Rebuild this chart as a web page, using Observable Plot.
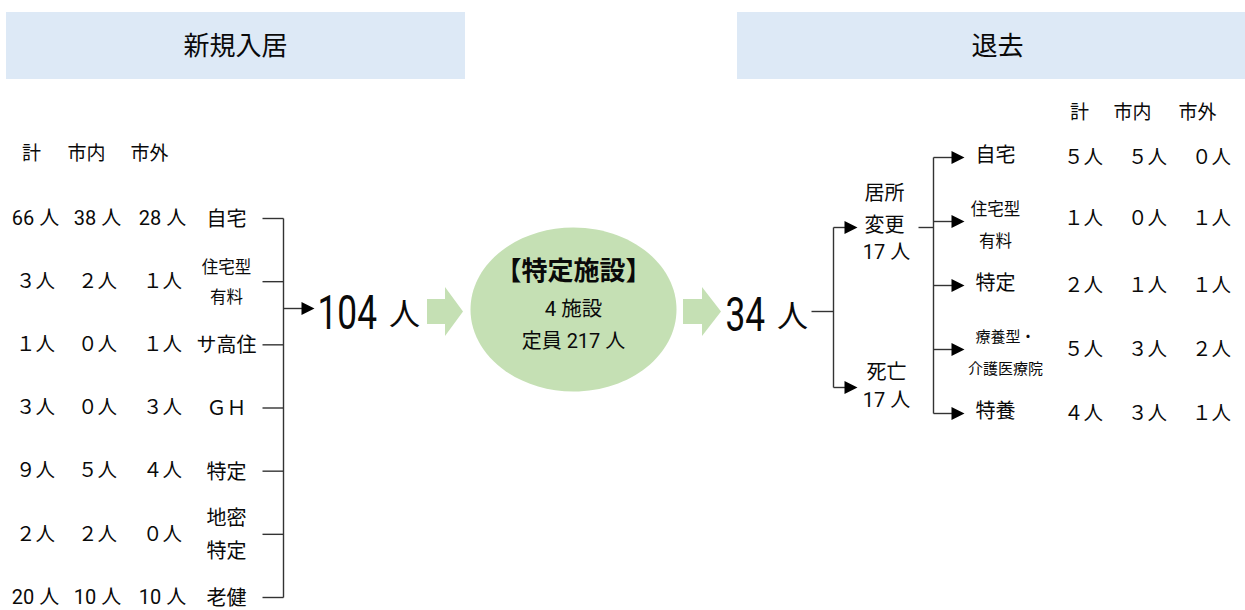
<!DOCTYPE html>
<html><head><meta charset="utf-8">
<script src="https://cdn.jsdelivr.net/npm/d3@7"></script>
<script src="https://cdn.jsdelivr.net/npm/@observablehq/plot@0.6"></script>
<style>html,body{margin:0;padding:0;background:#fff;overflow:hidden}</style>
</head><body><div id="chart"></div>
<script>
// ---------------- data ----------------
const sectionTitles = ["新規入居", "退去"];
const columnHeaders = ["計", "市内", "市外"];
const inCategories = ["自宅", "住宅型\n有料", "サ高住", "ＧＨ", "特定", "地密\n特定", "老健"];
const inTotal   = [66, 3, 1, 3, 9, 2, 20];
const inCity    = [38, 2, 0, 0, 5, 2, 10];
const inOutside = [28, 1, 1, 3, 4, 0, 10];
const inSum = 104;
const facilityName = "【特定施設】";
const facilityCount = 4;
const facilityCapacity = 217;
const outSum = 34;
const outTypes = ["居所\n変更", "死亡"];
const outTypeValues = [17, 17];
const outCategories = ["自宅", "住宅型\n有料", "特定", "療養型・\n介護医療院", "特養"];
const outTotal   = [5, 1, 2, 5, 4];
const outCity    = [5, 0, 1, 3, 3];
const outOutside = [0, 1, 1, 2, 1];

// ---------------- layout ----------------
const W = 1245, H = 610;
const font = "Roboto, 'Noto Sans CJK JP', sans-serif";
const ink = "#0a0a0a", lineColor = "#333", green = "#c5e0b4", blue = "#dde9f6";
const fw = n => String(n).split("").map(c => String.fromCharCode(0xFF10 + +c)).join("");
const fmt = n => n < 10 ? fw(n) + "人" : `${n} 人`;

const inRowY = d3.scalePoint(d3.range(inCategories.length), [218, 597]);
const outRowY = d3.scalePoint(d3.range(outCategories.length), [157, 413]);
const inColX = [35, 97, 162], inHeaderX = [31, 86, 149], inHeaderY = 153;
const outColX = [1083, 1147, 1211], outHeaderX = [1079, 1132, 1197], outHeaderY = 112;
const inLabelX = 226, outLabelX = 1000;
const labelSize = {"住宅型\n有料": 16.5, "療養型・\n介護医療院": 15};
const boxes = [{x1: 6, x2: 465, tx: 235}, {x1: 737, x2: 1245, tx: 997}];

const texts = [];   // middle anchored
const addLines = (label, x, y, size, gap) => {
  const lines = label.split("\n");
  lines.forEach((t, j) => texts.push({x, y: y + (j - (lines.length - 1) / 2) * gap, text: t, size}));
};
sectionTitles.forEach((t, i) => texts.push({x: boxes[i].tx, y: 46, text: t, size: 26}));
columnHeaders.forEach((t, i) => texts.push({x: inHeaderX[i], y: inHeaderY, text: t, size: 19}));
columnHeaders.forEach((t, i) => texts.push({x: outHeaderX[i], y: outHeaderY, text: t, size: 19}));
inCategories.forEach((c, i) => {
  const y = inRowY(i);
  [inTotal[i], inCity[i], inOutside[i]].forEach((v, k) =>
    texts.push({x: inColX[k], y, text: fmt(v), size: v < 10 ? 19.5 : 20}));
  addLines(c, inLabelX, y + 1, labelSize[c] || 20, c.startsWith("住宅") ? 30 : 33);
});
outCategories.forEach((c, i) => {
  const y = outRowY(i);
  [outTotal[i], outCity[i], outOutside[i]].forEach((v, k) =>
    texts.push({x: outColX[k], y: y - (i === 1 ? 3 : 0), text: fmt(v), size: 19.5}));
  addLines(c, c.startsWith("療養") ? 1005 : outLabelX - 5, y + (c.includes("\n") ? 4 : -2), labelSize[c] || 20, 32);
});
// right root labels
const typeY = [227, 387];
addLines(outTypes[0], 884, 209, 20, 32);
texts.push({x: 886, y: 252, text: fmt(outTypeValues[0]), size: 20});
addLines(outTypes[1], 886, 372, 20, 32);
texts.push({x: 886, y: 400, text: fmt(outTypeValues[1]), size: 20});
// ellipse texts
const ell = {cx: 573, cy: 309, rx: 103, ry: 82};
texts.push({x: ell.cx, y: 309, text: `${facilityCount} 施設`, size: 20.5});
texts.push({x: ell.cx, y: 341, text: `定員 ${facilityCapacity} 人`, size: 20});
const boldTexts = [{x: ell.cx, y: 271, text: facilityName, size: 26}];

// big totals
const flowY = 311;
const bigNumbers = [{x: 317, y: 313, text: String(inSum)}, {x: 725, y: 315, text: String(outSum)}];
const bigUnits = [{x: 404, y: 315, text: "人"}, {x: 792, y: 317, text: "人"}];

// connector lines
const links = [];
const heads = [];
const inTrunkX = 283;
inCategories.forEach((c, i) => links.push({x1: 262, y1: inRowY(i), x2: inTrunkX, y2: inRowY(i)}));
links.push({x1: inTrunkX, y1: inRowY(0), x2: inTrunkX, y2: inRowY(inCategories.length - 1)});
links.push({x1: inTrunkX, y1: 308, x2: 302, y2: 308}); heads.push({x: 314, y: 308});
links.push({x1: 811, y1: flowY, x2: 833, y2: flowY});
links.push({x1: 833, y1: typeY[0], x2: 833, y2: typeY[1]});
typeY.forEach(y => { links.push({x1: 833, y1: y, x2: 845, y2: y}); heads.push({x: 857, y}); });
links.push({x1: 918, y1: typeY[0], x2: 933, y2: typeY[0]});
links.push({x1: 933, y1: outRowY(0), x2: 933, y2: outRowY(outCategories.length - 1)});
outCategories.forEach((c, i) => { links.push({x1: 933, y1: outRowY(i), x2: 952, y2: outRowY(i)}); heads.push({x: 964, y: outRowY(i)}); });

// block arrows
const blockArrows = [[427, 445, 463], [683, 702, 721]];
const blockPts = blockArrows.flatMap(([a, m, b], id) => [
  {id, x: a, y1: 311.5 - 12.5, y2: 311.5 + 12.5},
  {id, x: m, y1: 311.5 - 12.5, y2: 311.5 + 12.5},
  {id, x: m, y1: 311.5 - 24.5, y2: 311.5 + 24.5},
  {id, x: b, y1: 311.5, y2: 311.5}
]);

const ellipseSymbol = {draw(ctx, size) {
  const rx = ell.rx, ry = ell.ry, k = 0.5523;
  ctx.moveTo(rx, 0);
  ctx.bezierCurveTo(rx, ry * k, rx * k, ry, 0, ry);
  ctx.bezierCurveTo(-rx * k, ry, -rx, ry * k, -rx, 0);
  ctx.bezierCurveTo(-rx, -ry * k, -rx * k, -ry, 0, -ry);
  ctx.bezierCurveTo(rx * k, -ry, rx, -ry * k, rx, 0);
  ctx.closePath();
}};
const headSymbol = {draw(ctx) {
  ctx.moveTo(0, 0); ctx.lineTo(-13, -6.5); ctx.lineTo(-13, 6.5); ctx.closePath();
}};

const svg = Plot.plot({
  width: W, height: H, margin: 0,
  x: {domain: [0, W], range: [0, W], axis: null},
  y: {domain: [0, H], range: [0, H], axis: null},
  style: {fontFamily: font, background: "#fff"},
  marks: [
    Plot.rect(boxes, {x1: "x1", x2: "x2", y1: () => 12, y2: () => 79, fill: blue}),
    Plot.area(blockPts, {x1: "x", y1: "y1", y2: "y2", z: "id", fill: green, curve: "linear"}),
    Plot.dot([ell], {x: "cx", y: "cy", symbol: ellipseSymbol, fill: green, stroke: null, r: 10}),
    Plot.link(links, {x1: "x1", y1: "y1", x2: "x2", y2: "y2", stroke: lineColor, strokeWidth: 1.4}),
    Plot.dot(heads, {x: "x", y: "y", symbol: headSymbol, fill: "#000", stroke: null}),
    Plot.text(texts, {x: "x", y: "y", text: "text", fontSize: d => d.size, fill: ink, fontFamily: font}),
    Plot.text(boldTexts, {x: "x", y: "y", text: "text", fontSize: d => d.size, fill: ink, fontWeight: "bold", fontFamily: font}),
    Plot.text(bigNumbers, {x: "x", y: "y", text: "text", fontSize: 49, textAnchor: "start", fill: ink, fontFamily: font}),
    Plot.text(bigUnits, {x: "x", y: "y", text: "text", fontSize: 31, fill: ink, fontFamily: font})
  ]
});
const bigSet = new Set(bigNumbers.map(d => d.text));
svg.querySelectorAll("text").forEach(t => {
  if (!bigSet.has(t.textContent)) return;
  let tr = t.getAttribute("transform");
  if (!tr) {
    const x = t.getAttribute("x") || 0, y = t.getAttribute("y") || 0;
    t.removeAttribute("x"); t.removeAttribute("y");
    tr = `translate(${x},${y})`;
  }
  t.setAttribute("transform", tr + " scale(0.72,1)");
});
document.getElementById("chart").appendChild(svg);
</script>
</body></html>
